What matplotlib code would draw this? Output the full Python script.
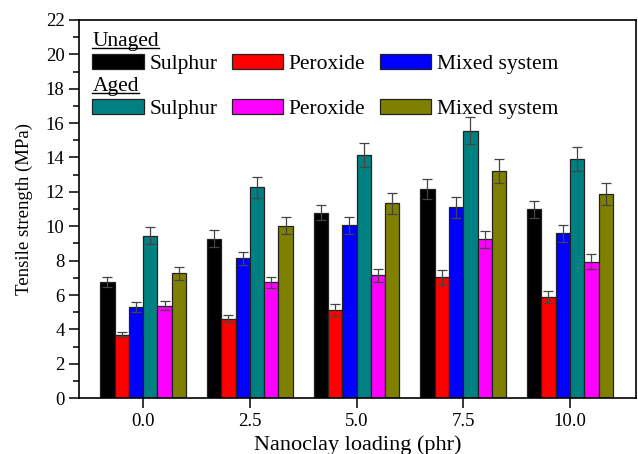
import numpy as np
import matplotlib
matplotlib.use("Agg")
import matplotlib.pyplot as plt
from matplotlib.patches import Patch
from matplotlib.lines import Line2D

# nanoclay loading (phr)
loading = [0.0, 2.5, 5.0, 7.5, 10.0]

# tensile strength (MPa) and error, unaged
unaged_sulphur = [6.75, 9.27, 10.8, 12.15, 10.98]
unaged_sulphur_err = [0.3, 0.5, 0.45, 0.58, 0.48]
unaged_peroxide = [3.7, 4.62, 5.12, 7.02, 5.88]
unaged_peroxide_err = [0.16, 0.2, 0.33, 0.43, 0.33]
unaged_mixed = [5.3, 8.13, 10.05, 11.1, 9.58]
unaged_mixed_err = [0.3, 0.4, 0.5, 0.6, 0.47]

# aged
aged_sulphur = [9.45, 12.26, 14.14, 15.56, 13.93]
aged_sulphur_err = [0.5, 0.6, 0.7, 0.8, 0.7]
aged_peroxide = [5.39, 6.73, 7.14, 9.24, 7.93]
aged_peroxide_err = [0.27, 0.3, 0.4, 0.5, 0.43]
aged_mixed = [7.26, 10.03, 11.33, 13.21, 11.87]
aged_mixed_err = [0.38, 0.5, 0.6, 0.68, 0.62]

labels = ["Sulphur", "Peroxide", "Mixed system"]

plt.rcParams['font.family'] = ['Liberation Serif', 'DejaVu Serif']

fig = plt.figure(figsize=(6.38, 4.54), dpi=100)
ax = fig.add_axes([0.124, 0.123, 0.873, 0.833])

series = [
    (unaged_sulphur, unaged_sulphur_err, "black"),
    (unaged_peroxide, unaged_peroxide_err, "#ff0000"),
    (unaged_mixed, unaged_mixed_err, "#0000ff"),
    (aged_sulphur, aged_sulphur_err, "#008080"),
    (aged_peroxide, aged_peroxide_err, "#ff00ff"),
    (aged_mixed, aged_mixed_err, "#808000"),
]

x = np.array(loading)
w = 0.335
handles = []
for i, (vals, err, col) in enumerate(series):
    ax.bar(x + (i - 2.5) * w, vals, w, color=col, edgecolor="#222222",
           linewidth=0.9, zorder=2)
    ax.errorbar(x + (i - 2.5) * w, vals, yerr=err, fmt="none",
                ecolor="#444444", elinewidth=0.9, capsize=3.6,
                capthick=0.9, zorder=3)
    handles.append(Patch(facecolor=col, edgecolor="#222222", linewidth=0.9))

ax.set_xlim(-1.5, 11.55)
ax.set_ylim(0, 22)
ax.set_xticks(loading)
ax.set_xticklabels(["%.1f" % v for v in loading])
ax.set_yticks(np.arange(0, 23, 2))
ax.set_yticks(np.arange(1, 22, 2), minor=True)
ax.tick_params(axis="both", which="major", direction="out", length=7,
               width=1.1, labelsize=13.5)
ax.tick_params(axis="y", which="minor", direction="out", length=4, width=1.1)
for s in ax.spines.values():
    s.set_linewidth(1.2)

ax.set_xlabel("Nanoclay loading (phr)", fontsize=16)
ax.set_ylabel("Tensile strength (MPa)", fontsize=13.5, labelpad=9)

kw = dict(ncol=3, frameon=False, fontsize=15.5, handlelength=2.37,
          handleheight=0.75, handletextpad=0.28, columnspacing=0.66,
          labelspacing=0.1, alignment="left", loc="upper left",
          borderaxespad=0, borderpad=0, title_fontsize=15.5)
leg1 = ax.legend(handles[:3], labels, title="Unaged",
                 bbox_to_anchor=(0.024, 0.967), **kw)
ax.add_artist(leg1)
leg2 = ax.legend(handles[3:], labels, title="Aged",
                 bbox_to_anchor=(0.024, 0.848), **kw)

# underline the legend headings
fig.canvas.draw()
inv = fig.transFigure.inverted()
for leg in (leg1, leg2):
    bb = leg.get_title().get_window_extent()
    (x0, y0), (x1, y1) = inv.transform([(bb.x0, bb.y0 + 3), (bb.x1, bb.y0 + 3)])
    fig.add_artist(Line2D([x0, x1], [y0, y1], color="black", linewidth=1.0,
                          transform=fig.transFigure))

fig.savefig("out.png", dpi=100)
